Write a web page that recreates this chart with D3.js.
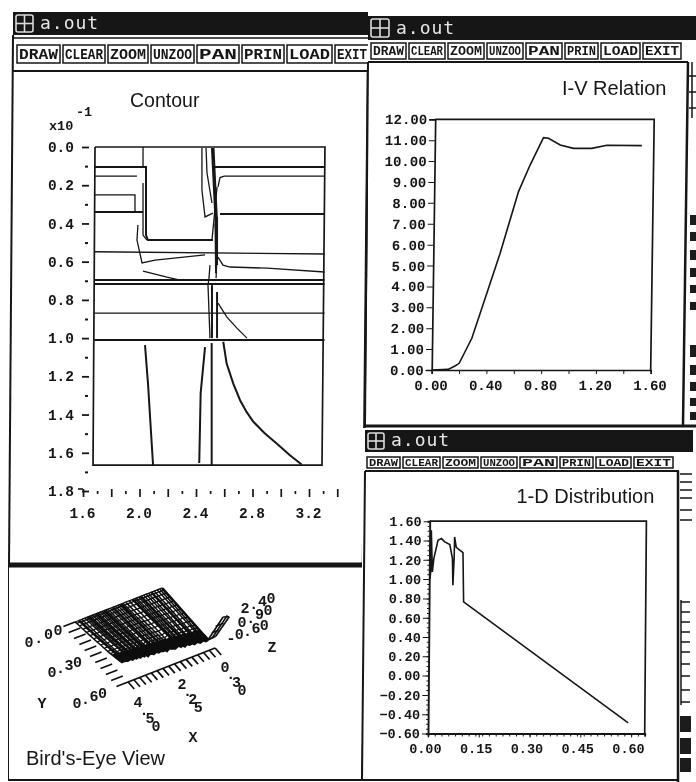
<!DOCTYPE html>
<html>
<head>
<meta charset="utf-8">
<title>a.out</title>
<script src="https://cdn.jsdelivr.net/npm/d3@7"></script>
<style>
  html, body { margin: 0; padding: 0; background: #fff; overflow: hidden; }
  svg { display: block; }
  .mono { font-family: "Liberation Mono", monospace; font-weight: bold; fill: #161616; }
  .sans { font-family: "Liberation Sans", Arial, sans-serif; fill: #161616; }
  .axis path, .axis line { stroke: #161616; }
  .axis text { font-family: "Liberation Mono", monospace; font-weight: bold; fill: #161616; }
</style>
</head>
<body>
<div id="chart"></div>
<script>
// contour panel, [x, y] pairs
var contourXTicks = [1.6, 1.8, 2.0, 2.2, 2.4, 2.6, 2.8, 3.0, 3.2, 3.4];
var contourXMinor = [1.7, 1.9, 2.1, 2.3, 2.5, 2.7, 2.9, 3.1, 3.3];
var contourYTicks = [0, 0.2, 0.4, 0.6, 0.8, 1.0, 1.2, 1.4, 1.6, 1.8];
var contourYMinor = [0.1, 0.3, 0.5, 0.7, 0.9, 1.1, 1.3, 1.5, 1.7];
var contourFrame = [[1.685, 0], [3.313, 0], [3.292, 1.665], [1.671, 1.665], [1.685, 0]];
var contourHeavy = [
  [[1.68, 0.105], [2.046, 0.105], [2.046, 0.461], [2.06, 0.487], [2.52, 0.487]],
  [[2.52, 0.105], [3.31, 0.105]],
  [[1.68, 0.34], [2.025, 0.34]],
  [[2.57, 0.35], [3.31, 0.35]],
  [[2.513, 0.005], [2.542, 0.445]],
  [[2.524, 0.005], [2.549, 0.4]],
  [[2.549, 0.366], [2.549, 0.618]],
  [[2.538, 0.4], [2.542, 0.66]],
  [[1.68, 0.696], [3.31, 0.696]],
  [[1.68, 0.717], [3.31, 0.717]],
  [[1.68, 1.01], [3.31, 1.01]],
  [[2.513, 0.723], [2.513, 1.0]],
  [[2.549, 0.759], [2.549, 1.0]],
  [[2.593, 1.019], [2.617, 1.133], [2.664, 1.238], [2.712, 1.325], [2.758, 1.386], [2.806, 1.438], [2.888, 1.499], [2.971, 1.551], [3.065, 1.613], [3.148, 1.661]],
  [[2.511, 1.026], [2.511, 1.665]],
  [[2.039, 1.037], [2.06, 1.236], [2.096, 1.665]],
  [[2.464, 1.047], [2.433, 1.288], [2.423, 1.654]]
];
var contourThin = [
  [[2.025, 0], [2.025, 0.105]],
  [[1.68, 0.152], [1.982, 0.152]],
  [[2.556, 0.209], [2.57, 0.16], [2.6, 0.152], [3.31, 0.152]],
  [[1.68, 0.251], [1.968, 0.251], [1.968, 0.34]],
  [[2.025, 0.188], [2.025, 0.461], [2.053, 0.487]],
  [[1.989, 0.408], [1.982, 0.487], [2.018, 0.607], [2.11, 0.592], [2.464, 0.565]],
  [[1.68, 0.548], [3.31, 0.56]],
  [[2.556, 0.576], [2.591, 0.618], [2.641, 0.628], [2.903, 0.634], [3.31, 0.654]],
  [[2.025, 0.649], [2.195, 0.681], [2.287, 0.696]],
  [[2.442, 0.005], [2.442, 0.225], [2.464, 0.366], [2.52, 0.346]],
  [[2.471, 0.005], [2.478, 0.136], [2.513, 0.293]],
  [[2.549, 0.209], [2.52, 0.435], [2.513, 0.487]],
  [[2.499, 0.618], [2.492, 0.686], [2.485, 0.723], [2.499, 1.0]],
  [[2.549, 0.565], [2.542, 0.686]],
  [[2.556, 0.817], [2.619, 0.89], [2.69, 0.948], [2.761, 1.0]],
  [[1.68, 0.869], [3.31, 0.869]]
];

// I-V relation
var ivX = [0, 0.12, 0.17, 0.2, 0.29, 0.395, 0.488, 0.616, 0.698, 0.793, 0.83, 0.916, 1.013, 1.147, 1.257, 1.512];
var ivY = [0, 0.03, 0.19, 0.32, 1.52, 3.67, 5.59, 8.54, 9.81, 11.12, 11.09, 10.77, 10.61, 10.61, 10.76, 10.74];
var ivXTicks = [0, 0.2, 0.4, 0.6, 0.8, 1.0, 1.2, 1.4, 1.6];
var ivYTicks = [0, 1, 2, 3, 4, 5, 6, 7, 8, 9, 10, 11, 12];

// 1-D distribution
var distX = [0.002, 0.004, 0.005, 0.009, 0.013, 0.025, 0.035, 0.045, 0.06, 0.068, 0.07, 0.073, 0.074, 0.079, 0.099, 0.102, 0.591];
var distY = [1.0, 1.075, 1.507, 1.075, 1.213, 1.403, 1.42, 1.386, 1.358, 1.213, 0.937, 1.213, 1.437, 1.33, 1.275, 0.764, -0.489];
var distXTicks = [0, 0.15, 0.3, 0.45, 0.6];
var distYTicks = [-0.6, -0.4, -0.2, 0, 0.2, 0.4, 0.6, 0.8, 1.0, 1.2, 1.4, 1.6];

// bird's-eye mesh
var birdX = [0, 0.12, 0.25, 0.4, 0.55, 0.7, 0.82, 0.95, 1.1, 1.2, 1.32, 1.4, 1.52, 1.7, 1.88, 2.02, 2.12, 2.2, 2.3, 2.42, 2.55, 2.68, 2.8, 2.9, 3.0, 3.1, 3.2, 3.3, 3.4, 3.5, 3.6, 3.7, 3.8, 3.9, 4.0, 4.15, 4.3, 4.5];
var birdZ = [0.02, 0, 0.12, 0.05, 0.18, 0.1, 0.22, 0.18, 0.3, 0.2, 0.34, 0.28, 0.42, 0.3, 0.4, 0.46, 0.36, 0.5, 0.44, 0.52, 0.48, 0.6, 0.5, 0.56, 0.62, 0.52, 0.66, 0.6, 0.7, 0.62, 0.72, 0.66, 0.74, 0.68, 0.78, 0.72, 0.8, 0.8];
var birdY = [0, 0.02, 0.05, 0.09, 0.13, 0.17, 0.21, 0.25, 0.29, 0.33, 0.37, 0.4, 0.43, 0.45, 0.465, 0.48, 0.49, 0.5, 0.51, 0.52];
var birdGain = [0, 0.05, 0.1, 0.15, 0.22, 0.28, 0.35, 0.42, 0.5, 0.56, 0.64, 0.7, 0.78, 0.82, 0.86, 0.9, 0.93, 0.95, 0.98, 1];
var birdSpike = [
  [[0, 0.52, 0], [-0.78, 0.52, 1.14]],
  [[-0.2, 0.52, 0], [-1.0, 0.52, 1.14]],
  [[-0.4, 0.52, 0.05], [-1.1, 0.52, 1.0]],
  [[0, 0.52, 0], [-0.4, 0.52, 0.05]],
  [[-0.2, 0.52, 0.38], [-0.55, 0.52, 0.38]],
  [[-0.4, 0.52, 0.72], [-0.8, 0.52, 0.72]],
  [[-0.78, 0.52, 1.14], [-1.1, 0.52, 1.0]]
];
var birdXTicks = [0, 0.3, 0.6, 0.9, 1.2, 1.5, 1.8, 2.1, 2.4, 2.7, 3.0, 3.3, 3.6, 3.9, 4.2, 4.5];
var birdYTicks = [0, 0.06, 0.12, 0.18, 0.24, 0.3, 0.36, 0.42, 0.48, 0.54, 0.6];
var birdXLabels = ['0.30', '2.25', '4.50'];
var birdYLabels = ['0.00', '0.30', '0.60'];
var birdZLabels = ['2.40', '0.90', '-0.60'];

var toolbarLabels = ['DRAW', 'CLEAR', 'ZOOM', 'UNZOO', 'PAN', 'PRIN', 'LOAD', 'EXIT'];

var INK = '#161616';
var svg = d3.select('#chart').append('svg').attr('width', 696).attr('height', 782);
var defs = svg.append('defs');
defs.append('filter').attr('id', 'scan')
  .attr('x', 0).attr('y', 0).attr('width', 1).attr('height', 1)
  .append('feGaussianBlur').attr('stdDeviation', 0.5);
svg.append('rect').attr('width', 696).attr('height', 782).attr('fill', '#fff');
var root = svg.append('g').attr('filter', 'url(#scan)');

function box(g, x, y, w, h, fill) {
  return g.append('rect').attr('x', x).attr('y', y).attr('width', w).attr('height', h).attr('fill', fill);
}
function seg(g, x1, y1, x2, y2, w) {
  return g.append('line').attr('x1', x1).attr('y1', y1).attr('x2', x2).attr('y2', y2)
    .attr('stroke', INK).attr('stroke-width', w);
}

// title bar + toolbar of one a.out window
function windowChrome(x, y, w, barH, tbY, tbH, edges, fontSize) {
  var g = root.append('g');
  box(g, x, y, w, barH, '#121212');
  var ix = x + 3, iy = y + 3, is = barH - 6;
  g.append('rect').attr('x', ix).attr('y', iy).attr('width', is).attr('height', is).attr('rx', 2)
    .attr('fill', '#121212').attr('stroke', '#ddd').attr('stroke-width', 1.6);
  seg(g, ix + is / 2, iy, ix + is / 2, iy + is, 1.6).attr('stroke', '#ddd');
  seg(g, ix, iy + is / 2, ix + is, iy + is / 2, 1.6).attr('stroke', '#ddd');
  g.append('text').attr('x', ix + is + 7).attr('y', y + barH - 6)
    .attr('font-family', 'DejaVu Sans Mono, monospace').attr('font-size', 18)
    .attr('letter-spacing', 1).attr('fill', '#e8e8e8').text('a.out');
  toolbarLabels.forEach(function (t, i) {
    var bx = edges[i], bw = edges[i + 1] - edges[i] - 3;
    g.append('rect').attr('x', bx).attr('y', tbY).attr('width', bw).attr('height', tbH)
      .attr('fill', '#fff').attr('stroke', INK).attr('stroke-width', 1.5);
    g.append('text').attr('x', bx + 2).attr('y', tbY + tbH / 2 + fontSize * 0.34)
      .attr('class', 'mono').attr('font-size', fontSize)
      .attr('textLength', Math.max(bw - 4, 4)).attr('lengthAdjust', 'spacingAndGlyphs').text(t);
  });
  return g;
}

// ---------- left window: contour ----------
box(root, 13, 12, 355, 556, '#fff');
windowChrome(13, 12, 355, 23, 45, 18, [17, 63, 108, 151, 197, 242, 287, 335, 372], 15);
seg(root, 13, 38, 368, 38, 1.5);
seg(root, 13, 71, 368, 71, 2);
seg(root, 13, 35, 9, 565, 2);
seg(root, 368, 70, 363, 565, 2.5);
seg(root, 8, 565, 363, 565, 5);

root.append('text').attr('class', 'sans').attr('x', 130).attr('y', 107).attr('font-size', 19.5).text('Contour');
root.append('text').attr('class', 'mono').attr('x', 49).attr('y', 130).attr('font-size', 13.5).text('x10');
root.append('text').attr('class', 'mono').attr('x', 76).attr('y', 116).attr('font-size', 13.5).text('-1');

var cx = d3.scaleLinear().domain([1.6, 3.2]).range([83, 309]);
var cy = d3.scaleLinear().domain([0, 1.8]).range([147, 491]);
var cLine = d3.line().x(function (d) { return cx(d[0]); }).y(function (d) { return cy(d[1]); });
var cg = root.append('g');
cg.append('path').attr('d', cLine(contourFrame)).attr('fill', 'none').attr('stroke', INK).attr('stroke-width', 1.7);
cg.selectAll('path.thin').data(contourThin).enter().append('path').attr('class', 'thin')
  .attr('d', cLine).attr('fill', 'none').attr('stroke', INK).attr('stroke-width', 1.3);
cg.selectAll('path.heavy').data(contourHeavy).enter().append('path').attr('class', 'heavy')
  .attr('d', cLine).attr('fill', 'none').attr('stroke', INK).attr('stroke-width', 2);

var cyAxis = root.append('g').attr('class', 'axis').attr('transform', 'translate(89,0)')
  .call(d3.axisLeft(cy).tickValues(contourYTicks).tickSize(7).tickPadding(8).tickFormat(d3.format('.1f')));
cyAxis.select('.domain').remove();
cyAxis.selectAll('line').attr('stroke-width', 1.8);
cyAxis.selectAll('text').attr('font-size', 14.5);
var cyMinor = root.append('g').attr('class', 'axis').attr('transform', 'translate(88,0)')
  .call(d3.axisLeft(cy).tickValues(contourYMinor).tickSize(3).tickFormat(''));
cyMinor.select('.domain').remove();
cyMinor.selectAll('line').attr('stroke-width', 2);

var cxAxis = root.append('g').attr('class', 'axis').attr('transform', 'translate(0,489)')
  .call(d3.axisBottom(cx).tickValues(contourXTicks).tickSize(8).tickPadding(11)
    .tickFormat(function (d, i) { return i % 2 === 0 && d < 3.3 ? d3.format('.1f')(d) : ''; }));
cxAxis.select('.domain').remove();
cxAxis.selectAll('line').attr('stroke-width', 1.7);
cxAxis.selectAll('text').attr('font-size', 14.5).attr('dx', -1);
var cxMinor = root.append('g').attr('class', 'axis').attr('transform', 'translate(0,491)')
  .call(d3.axisBottom(cx).tickValues(contourXMinor).tickSize(3).tickFormat(''));
cxMinor.select('.domain').remove();
cxMinor.selectAll('line').attr('stroke-width', 1.7);
seg(root, 78, 489, 83, 489, 1.6);

// ---------- bird's-eye panel ----------
seg(root, 8, 565, 8, 780, 2);
seg(root, 368, 565, 362, 780, 2);
seg(root, 8, 780, 362, 780, 2);
root.append('text').attr('class', 'sans').attr('x', 26).attr('y', 765).attr('font-size', 20).text("Bird's-Eye View");

// one linear scale per screen component of each model axis
var bxToX = d3.scaleLinear().domain([0, 4.5]).range([0, -87]);
var bxToY = d3.scaleLinear().domain([0, 4.5]).range([0, 34]);
var byToX = d3.scaleLinear().domain([0, 0.52]).range([0, 46]);
var byToY = d3.scaleLinear().domain([0, 0.52]).range([0, 52]);
var bzToY = d3.scaleLinear().domain([0, 1]).range([0, -15]);
function birdPoint(p) {
  return [162 + bxToX(p[0]) + byToX(p[1]), 588 + bxToY(p[0]) + byToY(p[1]) + bzToY(p[2])];
}
var bLine = d3.line().x(function (d) { return birdPoint(d)[0]; }).y(function (d) { return birdPoint(d)[1]; });
var bg = root.append('g').attr('fill', 'none').attr('stroke', '#0a0a0a');
birdX.forEach(function (x, i) {
  var pts = birdY.map(function (y, j) { return [x, y, birdZ[i] * birdGain[j]]; });
  bg.append('path').attr('d', bLine(pts)).attr('stroke-width', i % 4 === 0 ? 2.6 : 1.5);
});
birdY.forEach(function (y, j) {
  var pts = birdX.map(function (x, i) { return [x, y, birdZ[i] * birdGain[j]]; });
  bg.append('path').attr('d', bLine(pts)).attr('stroke-width', j > 11 ? 3 : 1.3);
});
birdSpike.forEach(function (s) {
  bg.append('path').attr('d', bLine(s)).attr('stroke-width', 1.6);
});

var bt = root.append('g').attr('fill', 'none').attr('stroke', '#111').attr('stroke-width', 1.7);
bt.append('path').attr('d', bLine([[4.5, 0.6, 0], [0, 0.6, 0]]));
birdXTicks.forEach(function (x) {
  bt.append('path').attr('d', bLine([[x, 0.6, 0], [x, 0.67, 0]]));
});
birdYTicks.forEach(function (y) {
  bt.append('path').attr('d', bLine([[4.5, y, 0], [5.1, y, 0]]));
});

// these labels step down or up glyph by glyph, every glyph stays upright
function stepped(t, x, y, dx, dy) {
  var xs = [], ys = [];
  t.split('').forEach(function (c, i) { xs.push(x + dx * i); ys.push(y + dy * i); });
  root.append('text').attr('class', 'mono').attr('font-size', 15).attr('text-anchor', 'middle')
    .attr('dominant-baseline', 'central').attr('x', xs.join(' ')).attr('y', ys.join(' ')).text(t);
}
stepped(birdYLabels[0], 29, 643, 9.7, -3.7);
stepped(birdYLabels[1], 52, 673, 8.5, -3.3);
stepped(birdYLabels[2], 77, 704, 8.5, -3.3);
stepped(birdXLabels[0], 225, 668, 5.7, 7.7);
stepped(birdXLabels[1], 182, 685, 5.4, 7.7);
stepped(birdXLabels[2], 138, 703, 6, 8);
stepped(birdZLabels[0], 245, 609, 8.7, -3.3);
stepped(birdZLabels[1], 242, 623, 8.7, -4);
stepped(birdZLabels[2], 231, 639, 8.3, -3.2);
[['Y', 42, 708], ['Z', 272, 652], ['X', 193, 742]].forEach(function (a) {
  root.append('text').attr('class', 'mono').attr('font-size', 15).attr('text-anchor', 'middle')
    .attr('x', a[1]).attr('y', a[2]).text(a[0]);
});

// ---------- I-V window ----------
box(root, 368, 15, 328, 413, '#fff');
windowChrome(368, 16, 328, 24, 43, 16, [371, 409, 448, 487, 526, 565, 601, 643, 684], 13);
seg(root, 368, 62, 688, 62, 2);
seg(root, 368, 62, 365, 425, 2);
seg(root, 688, 62, 683, 425, 2.5);
seg(root, 365, 426, 696, 426, 3);
root.append('text').attr('class', 'sans').attr('x', 562).attr('y', 95).attr('font-size', 20).text('I-V Relation');

var ix = d3.scaleLinear().domain([0, 1.6]).range([0, 219]);
var iy = d3.scaleLinear().domain([0, 12]).range([0, -250.7]);
var ig = root.append('g').attr('transform', 'translate(431.7,370) skewX(-0.8)');
ig.append('path').attr('d', 'M0,' + iy(12) + 'H' + ix(1.6) + 'V0').attr('fill', 'none').attr('stroke', INK).attr('stroke-width', 1.7);
var ixAxis = ig.append('g').attr('class', 'axis')
  .call(d3.axisBottom(ix).tickValues(ivXTicks).tickSize(4).tickPadding(6)
    .tickFormat(function (d, i) { return i % 2 === 0 ? d3.format('.2f')(d) : ''; }));
ixAxis.selectAll('text').attr('font-size', 14).attr('dx', -1);
ixAxis.select('.domain').attr('stroke-width', 1.7);
var iyAxis = ig.append('g').attr('class', 'axis')
  .call(d3.axisLeft(iy).tickValues(ivYTicks).tickSize(6).tickPadding(2).tickFormat(d3.format('.2f')));
iyAxis.selectAll('text').attr('font-size', 14);
iyAxis.select('.domain').attr('stroke-width', 1.7);
ig.append('path').datum(ivX).attr('fill', 'none').attr('stroke', INK).attr('stroke-width', 1.6)
  .attr('d', d3.line().x(function (d) { return ix(d); }).y(function (d, i) { return iy(ivY[i]); }));

// ---------- 1-D distribution window ----------
box(root, 362, 428, 334, 354, '#fff');
windowChrome(365, 430, 328, 22, 457, 11, [367, 403, 443, 481, 520, 560, 596, 634, 676], 10);
seg(root, 365, 471, 679, 471, 2);
seg(root, 365, 471, 362, 780, 2);
seg(root, 678, 471, 678, 782, 2.5);
seg(root, 362, 780, 678, 780, 2);
root.append('text').attr('class', 'sans').attr('x', 516.5).attr('y', 503).attr('font-size', 20).text('1-D Distribution');

var dx = d3.scaleLinear().domain([0, 0.64]).range([0, 216.7]);
var dy = d3.scaleLinear().domain([-0.6, 1.6]).range([0, -212.3]);
var dg = root.append('g').attr('transform', 'translate(428,733.5) skewX(-0.46)');
dg.append('path').attr('d', 'M0,' + dy(1.6) + 'H' + dx(0.64) + 'V0').attr('fill', 'none').attr('stroke', INK).attr('stroke-width', 1.7);
var dxMinor = dg.append('g').attr('class', 'axis')
  .call(d3.axisBottom(dx).ticks(21).tickSize(3).tickFormat(''));
dxMinor.select('.domain').attr('stroke-width', 1.9);
var dxAxis = dg.append('g').attr('class', 'axis')
  .call(d3.axisBottom(dx).tickValues(distXTicks).tickSize(4).tickPadding(6).tickFormat(d3.format('.2f')));
dxAxis.select('.domain').remove();
dxAxis.selectAll('text').attr('font-size', 13.5).attr('dx', -3);
var dyMinor = dg.append('g').attr('class', 'axis')
  .call(d3.axisLeft(dy).ticks(44).tickSize(2).tickFormat(''));
dyMinor.select('.domain').attr('stroke-width', 1.9);
var dyAxis = dg.append('g').attr('class', 'axis')
  .call(d3.axisLeft(dy).tickValues(distYTicks).tickSize(6).tickPadding(2).tickFormat(d3.format('.2f')));
dyAxis.select('.domain').remove();
dyAxis.selectAll('text').attr('font-size', 13.5);
dg.append('path').datum(distX).attr('fill', 'none').attr('stroke', INK).attr('stroke-width', 1.6)
  .attr('d', d3.line().x(function (d) { return dx(d); }).y(function (d, i) { return dy(distY[i]); }));

// ---------- scraps of the window behind, far right ----------
var strip = root.append('g');
[[215, 10], [232, 9], [250, 10], [268, 9], [285, 8], [302, 8], [345, 12], [365, 10], [382, 9], [398, 8], [412, 8]].forEach(function (b) {
  box(strip, 690, b[0], 6, b[1], '#1c1c1c');
});
seg(strip, 692, 62, 692, 118, 1.5);
[76, 92, 108].forEach(function (y) { seg(strip, 689, y, 696, y, 1.5); });
[474, 482, 490, 498, 510, 520].forEach(function (y) { seg(strip, 680, y, 692, y, 1.5); });
[602, 612, 622, 632, 642, 652, 664, 676, 690, 702].forEach(function (y) { seg(strip, 681, y, 690, y, 1.5); });
seg(strip, 681, 600, 681, 705, 1.5);
[716, 738, 758].forEach(function (y) { box(strip, 680, y, 11, y === 758 ? 14 : 16, '#1c1c1c'); });
</script>
</body>
</html>
